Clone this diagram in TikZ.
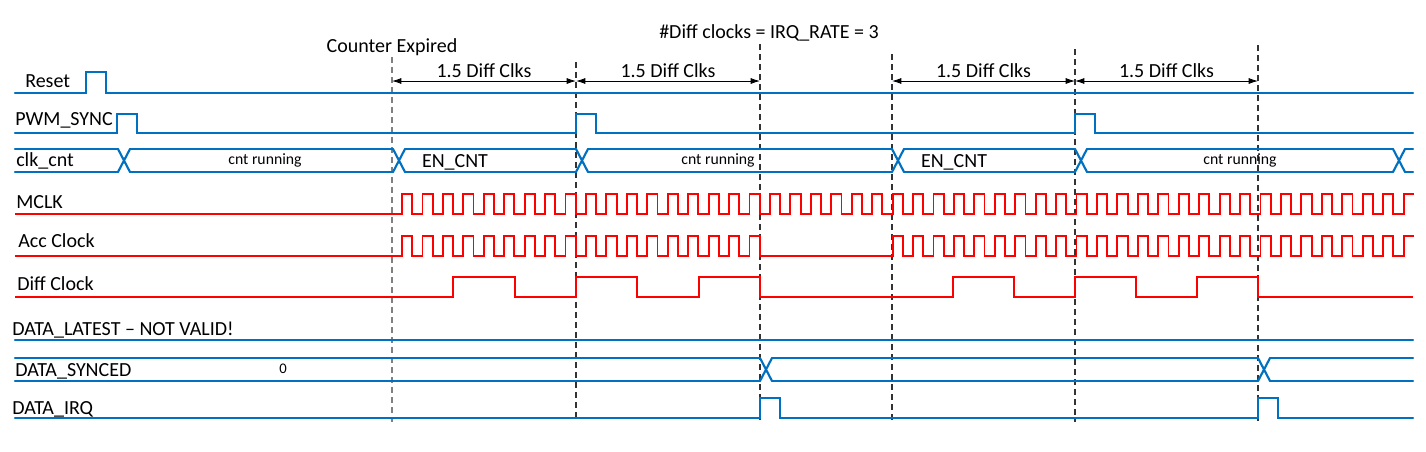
\documentclass[tikz,border=0pt]{standalone}
\usepackage{fontspec}
\setmainfont{Carlito}
\usetikzlibrary{arrows.meta}
\definecolor{sigblue}{RGB}{0,112,192}
\definecolor{sigred}{RGB}{255,0,0}
\tikzset{
  bluesig/.style = {draw=sigblue, line width=1.6pt, line cap=round},
  redsig/.style = {draw=sigred, line width=1.4pt},
  marker/.style = {line width=0.8pt, dash pattern=on 4.5pt off 3pt},
  dimline/.style = {draw=black, line width=0.6pt, {Latex[length=7pt,width=4.5pt]}-{Latex[length=7pt,width=4.5pt]}},
  siglabel/.style = {anchor=base west, inner sep=0pt},
  smalltext/.style = {font=\fontsize{11.8}{14}\selectfont, anchor=base, inner sep=0pt},
}
\begin{document}
\begin{tikzpicture}[x=0.75pt, y=-0.75pt, font=\fontsize{15}{18}\selectfont]
\useasboundingbox (0,0) rectangle (1426,451);

% dashed markers and the 1.5 Diff Clks spans
\foreach \x/\t/\c [count=\n] in {392/57/black!50, 576/62/black!80, 760/44/black!80, 892/54/black!80, 1075/49/black!80, 1258/45/black!80}
  {\coordinate (d\n) at (\x,81); \draw[marker, draw=\c] (\x,\t) -- (\x,422);};
\foreach \a/\b in {1/2, 2/3, 4/5, 5/6}
  \draw[dimline] (d\a) -- node[above, inner sep=2.25pt] {1.5 Diff Clks} (d\b);
\node[anchor=base] (expired) at (392,52) {Counter Expired};
\node[anchor=base] (rate) at (769,38) {\#Diff clocks = IRQ\_RATE = 3};

% signal names
\node[siglabel] (lreset) at (25,87) {Reset};
\node[siglabel] (lpwm) at (15,125) {PWM\_SYNC};
\node[siglabel] (lclk) at (16,166) {clk\_cnt};
\node[siglabel] (lmclk) at (16,208) {MCLK};
\node[siglabel] (lacc) at (18,247) {Acc Clock};
\node[siglabel] (ldiff) at (17,290) {Diff Clock};
\node[siglabel] (llatest) at (12,335) {DATA\_LATEST – NOT VALID!};
\node[siglabel] (lsynced) at (15,376) {DATA\_SYNCED};
\node[siglabel] (lirq) at (12,414) {DATA\_IRQ};

% Reset, PWM_SYNC
\draw[bluesig] (15,93) -- (86,93) -- (86,72) -- (106,72) -- (106,93) -- (1413,93);
\draw[bluesig] (15,133) foreach \p in {117, 576, 1075} { -- (\p,133) -- (\p,114) -- (\p+20,114) -- (\p+20,133) } -- (1413,133);

% clk_cnt bus
\foreach \a/\b in {15/118, 130/393, 405/576, 588/892, 904/1075, 1087/1393, 1405/1413}
  \draw[bluesig] (\a,149) -- (\b,149) (\a,172) -- (\b,172);
\foreach \x in {118, 393, 576, 892, 1075, 1393}
  \draw[bluesig] (\x,149) -- (\x+12,172) (\x,172) -- (\x+12,149);
\node[smalltext] (run1) at (265,164) {cnt running};
\node[anchor=base] (en1) at (455,167) {EN\_CNT};
\node[smalltext] (run2) at (718,164) {cnt running};
\node[anchor=base] (en2) at (954,167) {EN\_CNT};
\node[smalltext] (run3) at (1240,164) {cnt running};

% MCLK, Acc Clock, Diff Clock
\draw[redsig] (15,214) -- (402,214) foreach \k in {0,...,48} { -- ++(0,-20) -- ++(10.22,0) -- ++(0,20) -- ++(10.22,0) } -- ++(0,-20) -- ++(10.22,0);
\draw[redsig] (15,256) -- (402,256) foreach \k in {0,...,16} { -- ++(0,-20) -- ++(10.22,0) -- ++(0,20) -- ++(10.22,0) }
  -- ++(0,-20) -- ++(10.22,0) -- ++(0,20) -- (892.56,256)
  foreach \k in {24,...,48} { -- ++(0,-20) -- ++(10.22,0) -- ++(0,20) -- ++(10.22,0) } -- ++(0,-20) -- ++(10.22,0);
\draw[redsig] (15,297) foreach \s/\h in {392/61.33, 892/61} { -- (\s+\h,297) -- ++(0,-20) -- ++(\h,0) -- ++(0,20) -- ++(\h,0) -- ++(0,-20) -- ++(\h,0) -- ++(0,20) -- ++(\h,0) -- ++(0,-20) -- ++(\h,0) -- ++(0,20) } -- (1413,297);

% DATA_LATEST, DATA_SYNCED, DATA_IRQ
\draw[bluesig] (15,340) -- (1413,340);
\foreach \a/\b in {15/760, 772/1258, 1270/1413}
  \draw[bluesig] (\a,358) -- (\b,358) (\a,381) -- (\b,381);
\foreach \x in {760, 1258}
  \draw[bluesig] (\x,358) -- (\x+12,381) (\x,381) -- (\x+12,358);
\node[smalltext, font=\fontsize{11}{13}\selectfont] (zero) at (283,373) {0};
\draw[bluesig] (15,418) foreach \p in {760, 1258} { -- (\p,418) -- (\p,398) -- (\p+20,398) -- (\p+20,418) } -- (1413,418);
\end{tikzpicture}
\end{document}
